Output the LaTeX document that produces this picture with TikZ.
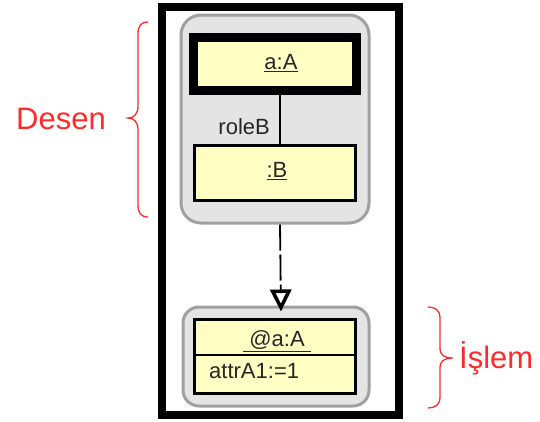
\documentclass[tikz,border=0pt]{standalone}
\usepackage{fontspec}
\setmainfont{Liberation Sans}
\usetikzlibrary{arrows.meta}
\definecolor{boxfill}{HTML}{FFFFC4}
\definecolor{groupfill}{HTML}{E4E4E4}
\definecolor{groupline}{HTML}{A0A0A0}
\definecolor{notered}{HTML}{FF2A2A}
\begin{document}
\begin{tikzpicture}[x=1pt,y=-1pt,
  group/.style={draw=groupline, fill=groupfill, line width=3pt, rounded corners=#1, inner sep=0pt},
  objbox/.style={draw=black, fill=boxfill, inner sep=0pt},
  boxtext/.style={font=\fontsize{22}{24}\selectfont, text=black!85, inner sep=0pt},
  note/.style={font=\fontsize{31}{34}\selectfont, text=notered, inner sep=0pt},
  brace/.style={draw=notered, line width=1.3pt}]
  \useasboundingbox (0,0) rectangle (540,421);
  % outer frame
  \draw[line width=8pt] (162,7) rectangle (399,415);

  % pattern group
  \node[group=20pt, minimum width=188pt, minimum height=208pt] (pattern) at (275,119) {};
  \node[objbox, line width=9pt, minimum width=163pt, minimum height=53pt] (aA) at (275,64) {};
  \node[boxtext] (aAtext) at (281,63) {\underline{a:A}};
  \node[objbox, line width=3pt, minimum width=161pt, minimum height=55pt] (B) at (275,173) {};
  \node[boxtext] (Btext) at (277,171) {\underline{:B}};
  \draw[line width=1.2pt] ([xshift=5pt]aA.south) -- ([xshift=5pt]B.north);
  \node[boxtext, anchor=east] (role) at (270,127) {roleB};

  % operation group
  \node[group=16pt, minimum width=186pt, minimum height=99pt] (operation) at (276,356.5) {};
  \node[objbox, line width=3pt, minimum width=161pt, minimum height=74pt] (op) at (275,356.5) {};
  \draw[line width=2pt] (op.west |- 0,355) -- (op.east |- 0,355);
  \node[boxtext] (optext) at (277,341) {\underline{\ @a:A\ }};
  \node[boxtext, anchor=west] (attr) at (209,371) {attrA1:=1};

  % dashed transformation arrow
  \draw[line width=1.8pt, dash pattern=on 26pt off 4pt,
        -{Triangle[open, width=21pt, length=22pt, line width=3.5pt]}]
    ([xshift=5pt]pattern.south) -- ([xshift=5pt,yshift=-6pt]operation.north);

  % braces and their labels
  \draw[brace] (148,22) .. controls (141,22) and (138,26) .. (138,34) -- (138,106)
    .. controls (138,114) and (134,118) .. (128,118)
    .. controls (134,118) and (138,122) .. (138,130) -- (138,205)
    .. controls (138,213) and (141,217) .. (148,217);
  \node[note, anchor=east] (desen) at (106,119) {Desen};
  \draw[brace] (428,307) .. controls (435,307) and (440,310) .. (440,318) -- (440,348)
    .. controls (440,355) and (444,358) .. (453,358)
    .. controls (444,358) and (440,361) .. (440,368) -- (440,397)
    .. controls (440,405) and (435,408) .. (428,408);
  \node[note, anchor=west] (islem) at (459,358) {İşlem};
\end{tikzpicture}
\end{document}
